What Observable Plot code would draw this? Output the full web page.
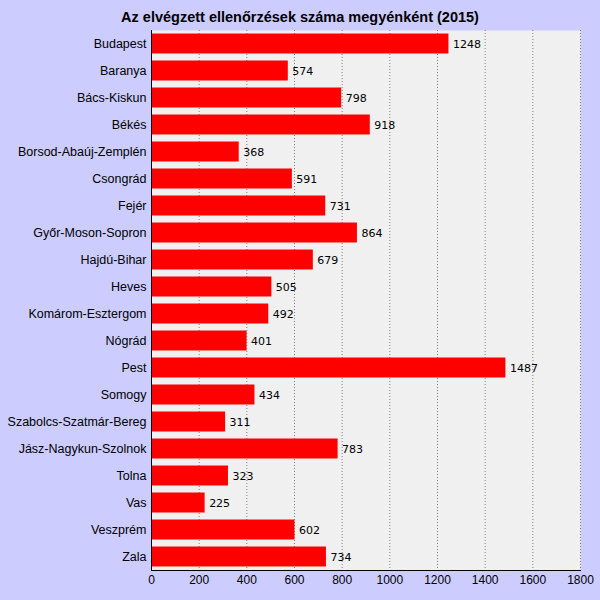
<!DOCTYPE html>
<html>
<head>
<meta charset="utf-8">
<script src="https://cdn.jsdelivr.net/npm/d3@7"></script>
<script src="https://cdn.jsdelivr.net/npm/@observablehq/plot@0.6"></script>
<style>
  html, body { margin: 0; padding: 0; background: #ccccff; }
  #wrap { width: 600px; height: 600px; background: #ccccff; }
  #title { height: 30px; font: bold 14.5px "Liberation Sans", Arial, sans-serif; line-height: 35px; text-align: center; color: #000; }
  svg { display: block; }
</style>
</head>
<body>
<div id="wrap">
  <div id="title">Az elvégzett ellenőrzések száma megyénként (2015)</div>
  <div id="chart"></div>
</div>
<script>
const counties = ["Budapest","Baranya","Bács-Kiskun","Békés","Borsod-Abaúj-Zemplén","Csongrád","Fejér","Győr-Moson-Sopron","Hajdú-Bihar","Heves","Komárom-Esztergom","Nógrád","Pest","Somogy","Szabolcs-Szatmár-Bereg","Jász-Nagykun-Szolnok","Tolna","Vas","Veszprém","Zala"];
const counts = [1248,574,798,918,368,591,731,864,679,505,492,401,1487,434,311,783,323,225,602,734];
const xTicks = [0,200,400,600,800,1000,1200,1400,1600,1800];

const data = counties.map((c, i) => ({county: c, value: counts[i]}));

const chart = Plot.plot({
  width: 600,
  height: 570,
  marginTop: 0,
  marginBottom: 30,
  marginLeft: 151,
  marginRight: 20,
  style: {background: "transparent", fontFamily: "'Liberation Sans', Arial, sans-serif", fontSize: "12px", color: "#000"},
  x: {domain: [0, 1800], label: null},
  y: {domain: counties, label: null, paddingInner: 0.26, paddingOuter: 0.13, round: false},
  marks: [
    Plot.frame({fill: "#f0f0f0", stroke: null}),
    Plot.gridX(xTicks.filter(d => d > 0), {stroke: "#808080", strokeOpacity: 1, strokeDasharray: "1,2"}),
    Plot.barX(data, {x: "value", y: "county", fill: "#ff0000"}),
    Plot.text(data, {x: "value", y: "county", text: d => String(d.value), textAnchor: "start", dx: 4, fontSize: 11, fontFamily: "'DejaVu Sans', sans-serif", fill: "#000"}),
    Plot.axisY({tickSize: 0, tickPadding: 5, fontSize: 12.5, label: null}),
    Plot.axisX(xTicks, {tickSize: 0, tickPadding: 5, fontSize: 12, tickFormat: d => String(d), label: null}),
    Plot.ruleX([0], {stroke: "#000"}),
    Plot.frame({anchor: "bottom", stroke: "#000"})
  ]
});
document.getElementById("chart").appendChild(chart);
</script>
</body>
</html>
